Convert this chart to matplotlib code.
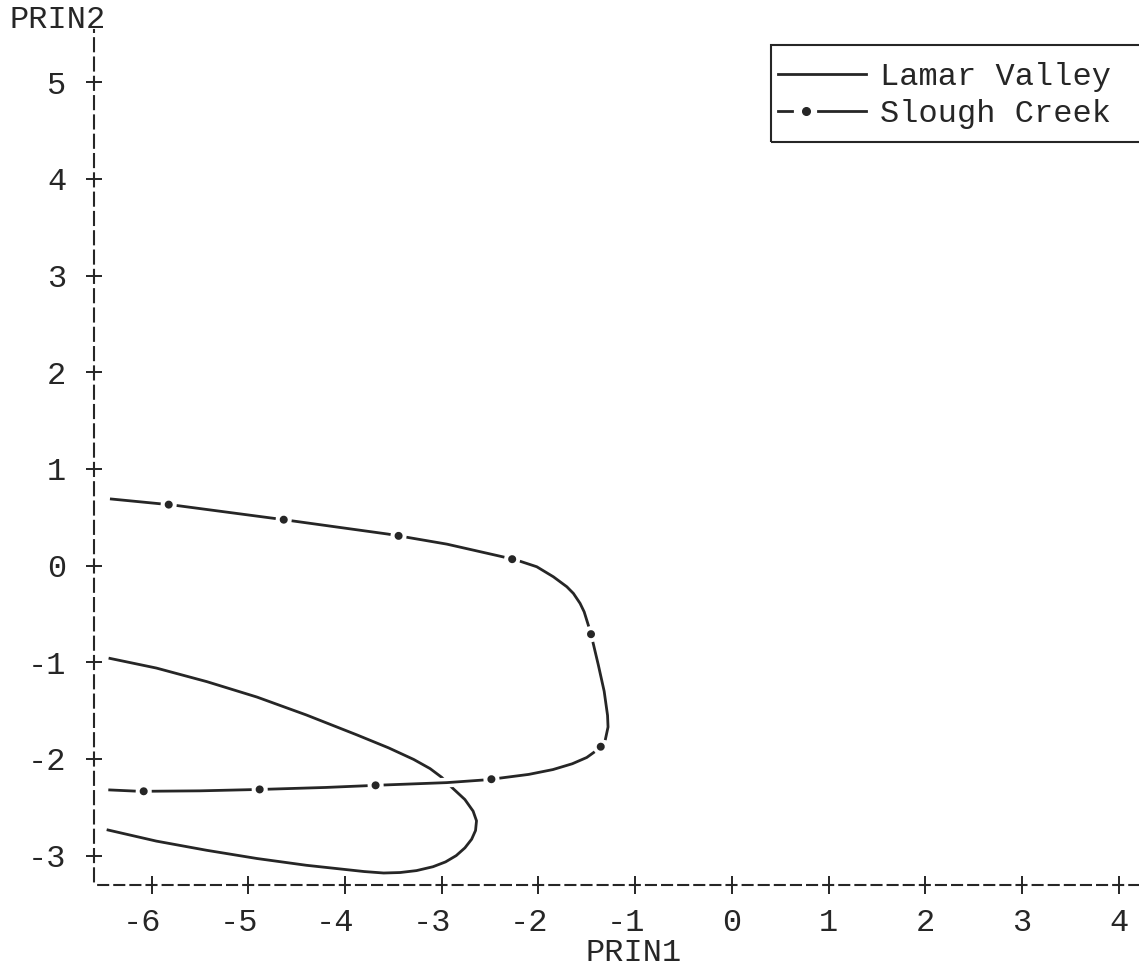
import matplotlib
matplotlib.use("Agg")
import matplotlib.pyplot as plt
import matplotlib.patheffects as pe
from matplotlib.lines import Line2D
from matplotlib.patches import Rectangle
from matplotlib.transforms import ScaledTranslation

plt.rcParams['font.family'] = ['Liberation Mono', 'DejaVu Sans Mono']
# dash lengths below are given in points, not in line widths
plt.rcParams['lines.scale_dashes'] = False

# Lamar Valley contour (PRIN1, PRIN2)
lamar_x = [-6.43, -5.95, -5.43, -4.91, -4.40, -3.88, -3.55, -3.29, -3.12, -3.00,
           -2.90, -2.76, -2.675, -2.64, -2.65, -2.69, -2.76, -2.85, -2.96, -3.09,
           -3.26, -3.43, -3.60, -3.80, -4.40, -4.91, -5.43, -5.95, -6.45]
lamar_y = [-0.96, -1.06, -1.20, -1.36, -1.545, -1.75, -1.885, -2.005, -2.10, -2.19,
           -2.29, -2.42, -2.54, -2.64, -2.74, -2.83, -2.92, -3.00, -3.065, -3.115,
           -3.155, -3.175, -3.18, -3.165, -3.10, -3.03, -2.945, -2.85, -2.735]

# Slough Creek contour (PRIN1, PRIN2)
slough_x = [-6.43, -5.775, -5.20, -4.678, -4.10, -3.557, -3.413, -2.947, -2.414, -2.327,
            -2.19, -2.017, -1.845, -1.706, -1.638, -1.569, -1.527, -1.493, -1.458, -1.38,
            -1.32, -1.285, -1.28, -1.31, -1.36, -1.403, -1.50, -1.65, -1.85, -2.10,
            -2.527, -2.947, -3.61, -4.20, -4.86, -5.50, -6.12, -6.447]
slough_y = [0.69, 0.626, 0.550, 0.481, 0.401, 0.326, 0.302, 0.222, 0.101, 0.081,
            0.045, -0.012, -0.116, -0.219, -0.288, -0.391, -0.478, -0.587, -0.701, -1.03,
            -1.30, -1.55, -1.67, -1.81, -1.88, -1.915, -1.985, -2.05, -2.11, -2.16,
            -2.215, -2.245, -2.27, -2.295, -2.315, -2.33, -2.335, -2.32]

x_ticks = [-6, -5, -4, -3, -2, -1, 0, 1, 2, 3, 4]
y_ticks = [-3, -2, -1, 0, 1, 2, 3, 4, 5]

ink = '#262626'
fs = 23


class SloughKey:
    pass


class SloughHandler:
    # legend glyph "-*---": short dash, dot, long dash
    def legend_artist(self, legend, orig_handle, fontsize, handlebox):
        x0 = -handlebox.xdescent
        w, h = handlebox.width, handlebox.height
        ym = h / 2 - handlebox.ydescent
        tr = handlebox.get_transform()
        parts = [Line2D([x0, x0 + 0.16 * w], [ym, ym], color=ink, lw=2.0, transform=tr),
                 Line2D([x0 + 0.32 * w], [ym], marker='o', ms=5.5, color=ink,
                        linestyle='none', transform=tr),
                 Line2D([x0 + 0.45 * w, x0 + w], [ym, ym], color=ink, lw=2.0, transform=tr)]
        for p in parts:
            handlebox.add_artist(p)
        return parts[0]


W, H = 1139, 969
fig = plt.figure(figsize=(W / 100, H / 100), dpi=100)
ax = fig.add_axes([94 / W, (H - 885) / H, (W - 94) / W, (885 - 30) / H])
ax.set_xlim(-6.595, 4.21)
ax.set_ylim(-3.304, 5.54)

# Lamar Valley: plain solid line
ax.plot(lamar_x, lamar_y, color=ink, lw=2.0, zorder=2)

# Slough Creek: long dashes with a dot in every gap
ax.plot(slough_x, slough_y, color=ink, lw=2.0, linestyle=(35.28, (72.0, 11.52)), zorder=3,
        path_effects=[pe.withStroke(linewidth=7, foreground='white')])
ax.plot(slough_x, slough_y, color=ink, lw=5.8, linestyle=(41.04, (0.05, 83.47)),
        dash_capstyle='round', zorder=3)

# line-printer style axes: dashed spines, "+" ticks
for side in ['top', 'right']:
    ax.spines[side].set_visible(False)
ax.spines['left'].set_linestyle((11.3, (9.4, 4.5)))
ax.spines['bottom'].set_linestyle((8.6, (7.2, 4.4)))
for side in ['left', 'bottom']:
    ax.spines[side].set_linewidth(1.5)
    ax.spines[side].set_color(ink)

ax.set_xticks(x_ticks)
ax.set_yticks(y_ticks)
ax.set_xticklabels([str(v) for v in x_ticks])
ax.set_yticklabels([str(v) for v in y_ticks])
ax.tick_params(axis='x', direction='inout', length=13, width=1.4, color=ink,
               labelsize=fs, labelcolor=ink, pad=10)
ax.tick_params(axis='y', direction='inout', length=12, width=1.4, color=ink,
               labelsize=fs, labelcolor=ink, pad=14)

# keep the digit (not the minus sign) centred under each tick
shift = ScaledTranslation(-0.096, 0, fig.dpi_scale_trans)
for lab, v in zip(ax.get_xticklabels(), x_ticks):
    if v < 0:
        lab.set_transform(lab.get_transform() + shift)

fig.text(10 / W, 1 - 20 / H, 'PRIN2', ha='left', va='center', fontsize=fs, color=ink)
fig.text(634 / W, 1 - 953 / H, 'PRIN1', ha='center', va='center', fontsize=fs, color=ink)

# legend
lamar_handle = Line2D([], [], color=ink, lw=2.0)
fig.legend([lamar_handle, SloughKey()], ['Lamar Valley', 'Slough Creek'],
           handler_map={SloughKey: SloughHandler()},
           loc='upper left', bbox_to_anchor=(778 / W, 1 - 62 / H),
           frameon=False, fontsize=fs, handlelength=2.76, handletextpad=0.44,
           borderpad=0, borderaxespad=0, labelspacing=0.22, labelcolor=ink)
fig.add_artist(Rectangle((771 / W, 1 - 142 / H), (1160 - 771) / W, 97 / H,
                         transform=fig.transFigure, fill=False, lw=1.5,
                         edgecolor=ink, clip_on=False))

fig.savefig('out.png', dpi=100, facecolor='white')
